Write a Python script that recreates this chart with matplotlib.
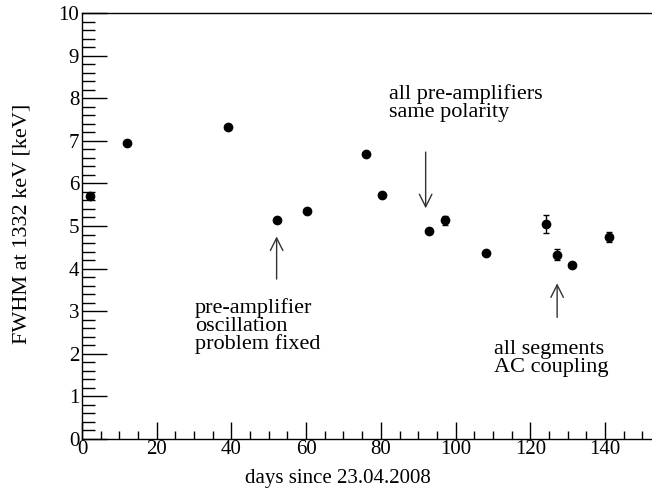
import numpy as np
import matplotlib.pyplot as plt
from matplotlib.ticker import MultipleLocator

plt.rcParams['font.family'] = 'Liberation Serif'
plt.rcParams['mathtext.fontset'] = 'stix'

# data
days = [2.1, 12.1, 39.1, 52.1, 60.2, 76.0, 80.2, 93.0, 97.1, 108.1, 124.1, 127.2, 131.1, 141.1]
fwhm = [5.70, 6.95, 7.32, 5.14, 5.36, 6.68, 5.73, 4.89, 5.13, 4.37, 5.04, 4.33, 4.08, 4.74]
err = [0.0, 0.0, 0.0, 0.0, 0.0, 0.0, 0.0, 0.0, 0.11, 0.0, 0.21, 0.12, 0.0, 0.12]

# annotations: text, text position (left, block centre), arrow tail, arrow head
notes = [
    ("pre-amplifier\noscillation\nproblem fixed", (30.2, 2.65), (52.1, 3.69), (52.1, 4.82)),
    ("all pre-amplifiers\nsame polarity", (82.2, 7.89), (92.0, 6.80), (92.0, 5.35)),
    ("all segments\nAC coupling", (110.3, 1.90), (127.2, 2.79), (127.2, 3.72)),
]

fig = plt.figure(figsize=(6.52, 4.91), dpi=100)
ax = fig.add_axes([0.1258, 0.1059, 0.8742, 0.8676])

ax.errorbar(days, fwhm, yerr=err, fmt='o', color='black', ms=6,
            elinewidth=1, capsize=2, capthick=1)

for txt, tpos, tail, head in notes:
    ax.text(tpos[0], tpos[1], txt, fontsize=16, ha='left', va='center', linespacing=0.92)
    ax.annotate('', xy=head, xytext=tail,
                arrowprops=dict(arrowstyle='->,head_length=0.9,head_width=0.45',
                                color='#333333', lw=1))

ax.set_xlim(0, 152.6)
ax.set_ylim(0, 10)
ax.xaxis.set_major_locator(MultipleLocator(20))
ax.xaxis.set_minor_locator(MultipleLocator(5))
ax.yaxis.set_major_locator(MultipleLocator(1))
ax.yaxis.set_minor_locator(MultipleLocator(0.2))
ax.tick_params(which='both', direction='in', top=False, right=False, labelsize=15, width=1)
ax.tick_params(axis='y', which='major', length=18, pad=2)
ax.tick_params(axis='y', which='minor', length=9)
ax.tick_params(axis='x', which='major', length=12, pad=1)
ax.tick_params(axis='x', which='minor', length=6)
ax.spines['right'].set_visible(False)
for s in ['left', 'bottom', 'top']:
    ax.spines[s].set_linewidth(1)

ax.set_xlabel("days since 23.04.2008", fontsize=15)
ax.xaxis.set_label_coords((338 - 82) / 570, -(478 - 439) / 426)
ax.set_ylabel("FWHM at 1332 keV [keV]", fontsize=16)
ax.yaxis.set_label_coords(-(82 - 22) / 570, (439 - 224) / 426)
ax.yaxis.label.set_va('center')
ax.xaxis.label.set_va('center')

plt.savefig('out.png', dpi=100)
